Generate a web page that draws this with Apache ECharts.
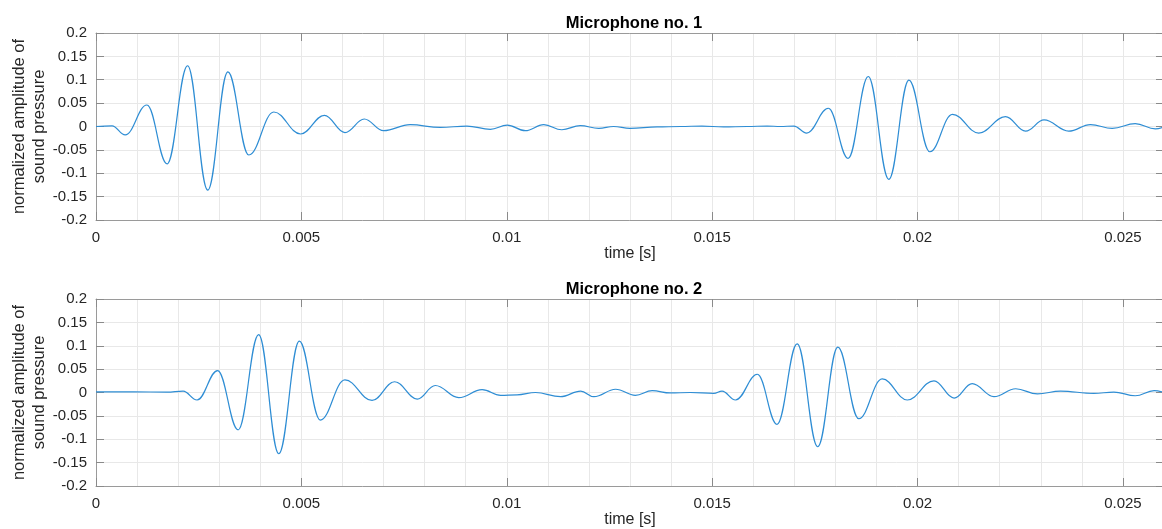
<!DOCTYPE html>
<html lang="en">
<head>
    <meta charset="UTF-8">
    <title>Microphones</title>
    <script src="https://cdn.jsdelivr.net/npm/echarts@6/dist/echarts.min.js"></script>
    <style>
        html, body { margin: 0; padding: 0; background: #fff; }
        #chart { width: 1162px; height: 529px; }
    </style>
</head>
<body>
<div id="chart"></div>
<script>
    // values (extrema of the waveforms)
    var mic1Time = [0, 0.00039, 0.00071, 0.00124, 0.00173, 0.00223, 0.00272, 0.00321, 0.00372, 0.00433,
        0.00498, 0.00556, 0.00606, 0.00653, 0.00700, 0.00765, 0.00838, 0.00903, 0.00960, 0.01001,
        0.01045, 0.01090, 0.01134, 0.01179, 0.01224, 0.01260, 0.01300, 0.01366, 0.01423, 0.01475,
        0.01528, 0.01585, 0.01634, 0.01666, 0.01699, 0.01730, 0.01783, 0.01831, 0.01880, 0.01930,
        0.01979, 0.02030, 0.02085, 0.02149, 0.02214, 0.02263, 0.02308, 0.02368, 0.02421, 0.02474,
        0.02530, 0.02579, 0.02600];
    var mic1Amp = [0, 0.0014, -0.018, 0.046, -0.080, 0.130, -0.136, 0.117, -0.061, 0.031,
        -0.016, 0.024, -0.013, 0.016, -0.009, 0.004, -0.002, 0.001, -0.006, 0.003,
        -0.009, 0.004, -0.007, 0.002, -0.004, 0, -0.004, -0.001, 0, 0.001,
        -0.001, 0, 0.001, 0, 0.001, -0.014, 0.039, -0.068, 0.107, -0.113,
        0.099, -0.054, 0.026, -0.014, 0.021, -0.010, 0.014, -0.010, 0.004, -0.004,
        0.006, -0.005, -0.001];

    var mic2Time = [0, 0.00092, 0.00173, 0.00212, 0.00246, 0.00296, 0.00346, 0.00396, 0.00445, 0.00495,
        0.00546, 0.00606, 0.00672, 0.00727, 0.00782, 0.00826, 0.00883, 0.00940, 0.00985,
        0.01025, 0.01070, 0.01131, 0.01180, 0.01212, 0.01265, 0.01313, 0.01354, 0.01398, 0.01447,
        0.01504, 0.01524, 0.01557, 0.01610, 0.01658, 0.01707, 0.01757, 0.01806, 0.01857, 0.01914,
        0.01975, 0.02040, 0.02089, 0.02133, 0.02186, 0.02239, 0.02292, 0.02348, 0.02429, 0.02478,
        0.02530, 0.02576, 0.02600];
    var mic2Amp = [0.0014, 0.0014, 0.0007, 0.003, -0.016, 0.047, -0.080, 0.124, -0.131, 0.110,
        -0.059, 0.027, -0.017, 0.023, -0.014, 0.015, -0.011, 0.006, -0.006,
        -0.005, 0, -0.009, 0.003, -0.009, 0.007, -0.006, 0.004, -0.001, 0,
        -0.002, 0.003, -0.016, 0.039, -0.068, 0.104, -0.116, 0.097, -0.056, 0.029,
        -0.016, 0.025, -0.012, 0.019, -0.009, 0.008, -0.003, 0.003, -0.002, 0.001,
        -0.007, 0.004, 0];

    var titles = ['Microphone no. 1', 'Microphone no. 2'];

    function pairs(t, v) {
        var out = [];
        for (var i = 0; i < t.length; i++) {
            out.push([t[i], v[i]]);
        }
        return out;
    }

    var font = '"Liberation Sans", Arial, sans-serif';
    var boxColor = '#9a9a9a';
    var gridColor = '#e8e8e8';

    var grids = [
        { left: 96, top: 33, width: 1068, height: 187, outerBoundsMode: 'none', containLabel: false },
        { left: 96, top: 299, width: 1068, height: 187, outerBoundsMode: 'none', containLabel: false }
    ];

    var xAxes = [], yAxes = [], series = [], titleList = [];
    for (var g = 0; g < 2; g++) {
        // bottom axis with labels
        xAxes.push({
            type: 'value', gridIndex: g, position: 'bottom',
            min: 0, max: 0.026, interval: 0.005,
            name: 'time [s]', nameLocation: 'middle', nameGap: 26, nameMoveOverlap: false,
            nameTextStyle: { fontFamily: font, fontSize: 16, color: '#262626' },
            axisLine: { show: true, onZero: false, lineStyle: { color: boxColor } },
            axisTick: { show: true, inside: true, length: 8, lineStyle: { color: '#8a8a8a' } },
            axisLabel: {
                fontFamily: font, fontSize: 15, color: '#262626', margin: 10,
                showMaxLabel: false,
                formatter: function (v) { return String(+v.toFixed(3)); }
            },
            splitLine: { show: true, lineStyle: { color: gridColor } },
            minorTick: { show: false, splitNumber: 5 },
            minorSplitLine: { show: true, lineStyle: { color: gridColor } }
        });
        // top axis, only box line and ticks
        xAxes.push({
            type: 'value', gridIndex: g, position: 'top',
            min: 0, max: 0.026, interval: 0.005,
            axisLine: { show: true, onZero: false, lineStyle: { color: boxColor } },
            axisTick: { show: true, inside: true, length: 8, lineStyle: { color: '#8a8a8a' } },
            axisLabel: { show: false },
            splitLine: { show: false }
        });
        yAxes.push({
            type: 'value', gridIndex: g, position: 'left',
            min: -0.2, max: 0.2, interval: 0.05,
            name: 'normalized amplitude of\nsound pressure',
            nameLocation: 'middle', nameGap: 47, nameRotate: 90, nameMoveOverlap: false,
            nameTextStyle: { fontFamily: font, fontSize: 16.5, color: '#262626', lineHeight: 20 },
            axisLine: { show: true, onZero: false, lineStyle: { color: boxColor } },
            axisTick: { show: true, inside: true, length: 8, lineStyle: { color: '#8a8a8a' } },
            axisLabel: { fontFamily: font, fontSize: 15, color: '#262626', margin: 9 },
            splitLine: { show: true, lineStyle: { color: gridColor } }
        });
        yAxes.push({
            type: 'value', gridIndex: g, position: 'right',
            min: -0.2, max: 0.2, interval: 0.05,
            axisLine: { show: true, onZero: false, lineStyle: { color: boxColor } },
            axisTick: { show: true, inside: true, length: 8, lineStyle: { color: '#8a8a8a' } },
            axisLabel: { show: false },
            splitLine: { show: false }
        });
        series.push({
            type: 'line',
            xAxisIndex: g * 2, yAxisIndex: g * 2,
            data: g === 0 ? pairs(mic1Time, mic1Amp) : pairs(mic2Time, mic2Amp),
            smooth: 0.4,
            smoothMonotone: 'x',
            showSymbol: false,
            lineStyle: { color: '#2e8dd4', width: 1.2 },
            silent: true
        });
        titleList.push({
            text: titles[g],
            left: 629, top: g === 0 ? 10 : 276, textAlign: 'center',
            textStyle: { fontFamily: font, fontSize: 16.5, fontWeight: 'bold', color: '#000' }
        });
    }

    var myChart = echarts.init(document.getElementById('chart'));
    var option = {
        animation: false,
        title: titleList,
        grid: grids,
        xAxis: xAxes,
        yAxis: yAxes,
        series: series
    };
    myChart.setOption(option);
</script>
</body>
</html>
